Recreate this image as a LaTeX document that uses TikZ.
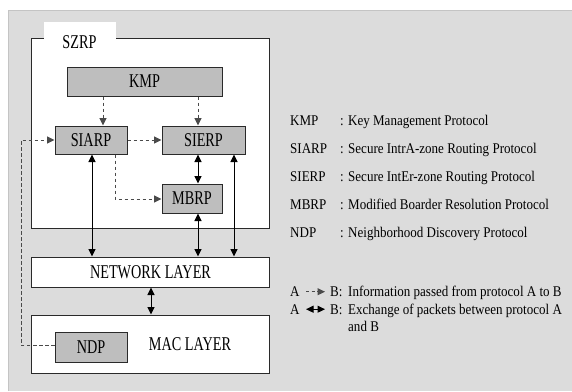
\documentclass[tikz,border=0pt]{standalone}
\usepackage{fontspec}
\setmainfont{Liberation Serif}
\newfontfamily\boxfont{Liberation Serif}[FakeStretch=0.73]
\newfontfamily\keyfont{Liberation Serif}[FakeStretch=0.88]
\usetikzlibrary{arrows.meta}
\definecolor{panelgray}{HTML}{DCDCDC}
\definecolor{paneledge}{HTML}{C4C4C4}
\definecolor{protogray}{HTML}{BEBEBE}
\definecolor{edgeink}{HTML}{2A2A2A}
\definecolor{dashink}{HTML}{4A4A4A}
\begin{document}
\begin{tikzpicture}[x=1bp,y=-1bp,
  tip/.tip={Triangle[length=7.5bp,width=7bp]},
  protobox/.style={draw=edgeink, fill=protogray, line width=1bp, inner sep=0pt,
    font=\boxfont\fontsize{19.5bp}{21bp}\selectfont},
  layerbox/.style={draw=edgeink, fill=white, line width=1bp, inner sep=0pt,
    font=\boxfont\fontsize{19.5bp}{21bp}\selectfont},
  infoflow/.style={draw=dashink, line width=1bp, dash pattern=on 3.5bp off 2.5bp, -tip},
  pktflow/.style={draw=black, line width=1bp, tip-tip},
  keytext/.style={anchor=base west, inner sep=0pt, font=\keyfont\fontsize{14.8bp}{16bp}\selectfont}
]
\useasboundingbox (0,0) rectangle (572,391);
% grey panel
\fill[panelgray] (8,10) rectangle (572,391);
\draw[paneledge, line width=1bp] (8,391) -- (8,10) -- (572,10);

% SZRP frame with its white tab
\node[layerbox, minimum width=237bp, minimum height=190bp] (szrp) at (150.5,133) {};
\fill[white] (44,22) rectangle (116,38.6);
\node[inner sep=0pt, anchor=base, font=\boxfont\fontsize{19.5bp}{21bp}\selectfont] (szrplbl) at (79.5,48.3) {SZRP};

% protocol blocks
\node[protobox, minimum width=155bp, minimum height=29bp] (kmp) at (144.5,81.5) {KMP};
\node[protobox, minimum width=72bp, minimum height=28bp] (siarp) at (91,140) {SIARP};
\node[protobox, minimum width=83bp, minimum height=28bp] (sierp) at (203.5,140) {SIERP};
\node[protobox, minimum width=60bp, minimum height=29bp] (mbrp) at (192,198.5) {MBRP};

% layers
\node[layerbox, minimum width=237bp, minimum height=30bp] (net) at (150.5,272) {NETWORK LAYER};
\node[layerbox, minimum width=237bp, minimum height=58bp] (mac) at (150.5,344) {};
\node[inner sep=0pt, font=\boxfont\fontsize{19.5bp}{21bp}\selectfont] (maclbl) at (190,344) {MAC LAYER};
\node[protobox, minimum width=72bp, minimum height=30bp] (ndp) at (91,347) {NDP};

% reference columns for the connectors
\coordinate (xa) at (103,0);
\coordinate (xb) at (198,0);
\coordinate (xc) at (115,0);
\coordinate (xd) at (92,0);
\coordinate (xe) at (234,0);
\coordinate (xf) at (151,0);
\coordinate (xl) at (21,0);
\coordinate (ym) at (0,199);
\coordinate (yn) at (0,345);

% information passed between protocols
\draw[infoflow] (kmp.south -| xa) -- (siarp.north -| xa);
\draw[infoflow] (kmp.south -| xb) -- (sierp.north -| xb);
\draw[infoflow] (siarp.east) -- (sierp.west);
\draw[infoflow] (siarp.south -| xc) |- (mbrp.west |- ym);
\draw[infoflow] (ndp.west |- yn) -| (xl |- siarp.west) -- (siarp.west);

% packet exchange
\draw[pktflow] (siarp.south -| xd) -- (net.north -| xd);
\draw[pktflow] (sierp.south -| xb) -- (mbrp.north -| xb);
\draw[pktflow] (mbrp.south -| xb) -- (net.north -| xb);
\draw[pktflow] (sierp.south -| xe) -- (net.north -| xe);
\draw[pktflow] (net.south -| xf) -- (mac.north -| xf);

% key
\node[keytext] (k1a) at (290,125.3) {KMP};
\node[keytext] (k1b) at (340,125.3) {:};
\node[keytext] (k1c) at (348,125.3) {Key Management Protocol};
\node[keytext] (k2a) at (290,153.3) {SIARP};
\node[keytext] (k2b) at (340,153.3) {:};
\node[keytext] (k2c) at (348,153.3) {Secure IntrA-zone Routing Protocol};
\node[keytext] (k3a) at (290,181.3) {SIERP};
\node[keytext] (k3b) at (340,181.3) {:};
\node[keytext] (k3c) at (348,181.3) {Secure IntEr-zone Routing Protocol};
\node[keytext] (k4a) at (290,209.3) {MBRP};
\node[keytext] (k4b) at (340,209.3) {:};
\node[keytext] (k4c) at (348,209.3) {Modified Boarder Resolution Protocol};
\node[keytext] (k5a) at (290,237.3) {NDP};
\node[keytext] (k5b) at (340,237.3) {:};
\node[keytext] (k5c) at (348,237.3) {Neighborhood Discovery Protocol};

\node[keytext] (l1a) at (290,296.7) {A};
\coordinate (l1s) at (306,291.7);
\coordinate (l1e) at (325,291.7);
\draw[infoflow, dash pattern=on 3bp off 2.5bp] (l1s) -- (l1e);
\node[keytext] (l1b) at (330,296.7) {B:};
\node[keytext] (l1c) at (348,296.7) {Information passed from protocol A to B};

\node[keytext] (l2a) at (290,314.2) {A};
\coordinate (l2s) at (306,309.2);
\coordinate (l2e) at (325,309.2);
\draw[pktflow] (l2s) -- (l2e);
\node[keytext] (l2b) at (330,314.2) {B:};
\node[keytext] (l2c) at (348,314.2) {Exchange of packets between protocol A};
\node[keytext] (l2d) at (348,331) {and B};
\end{tikzpicture}
\end{document}
